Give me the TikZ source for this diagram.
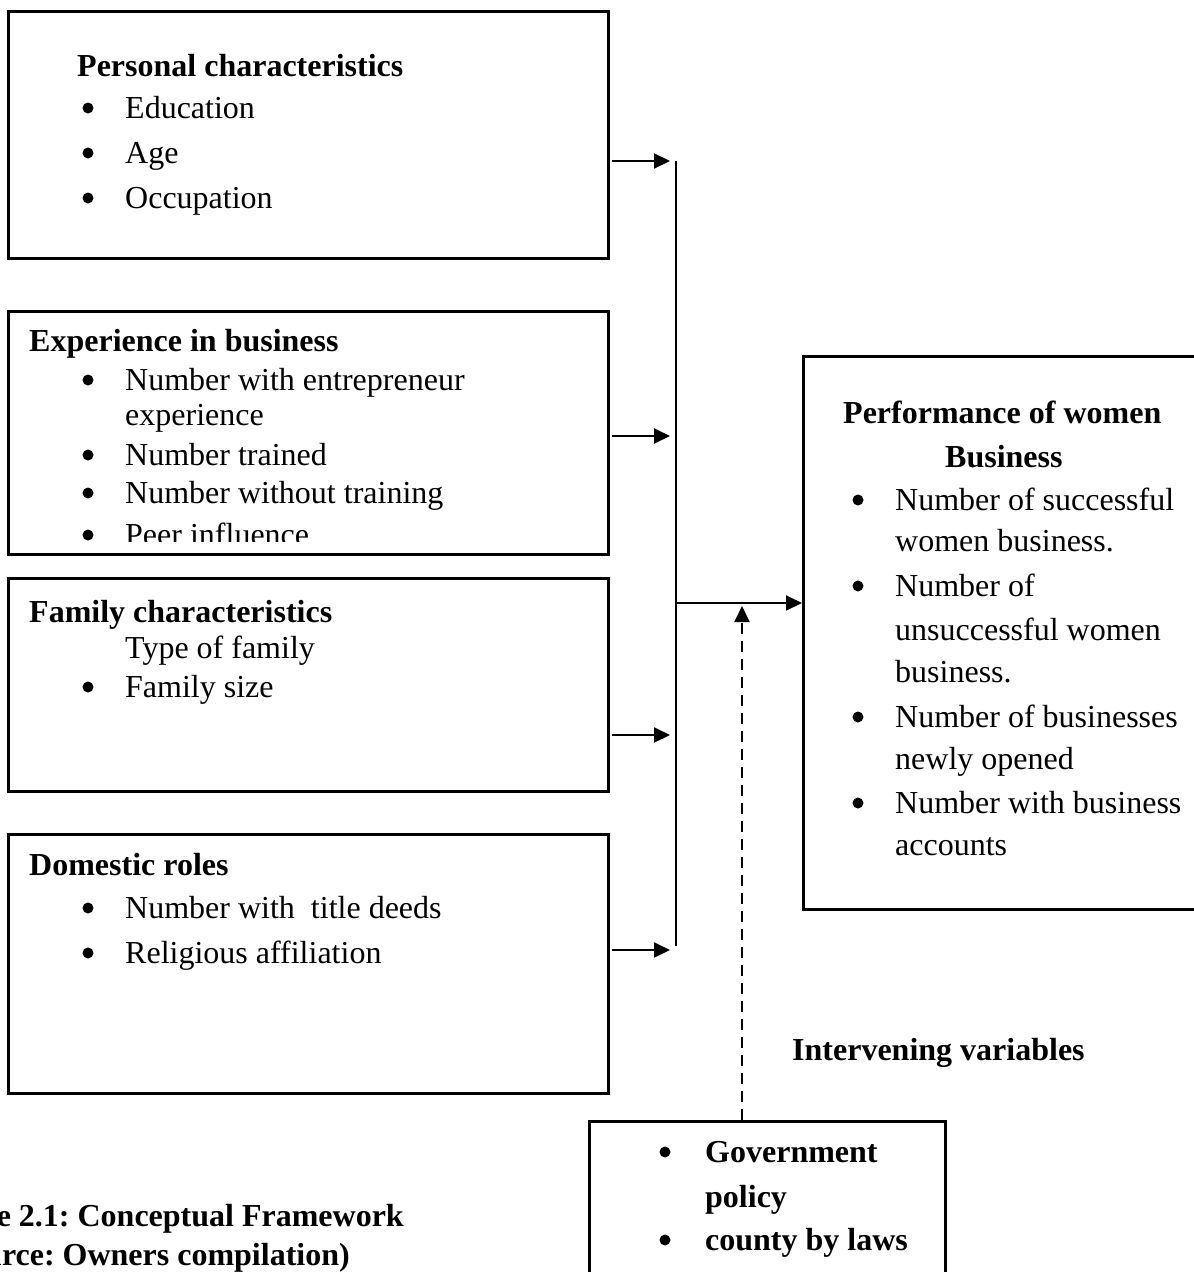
\documentclass[tikz,border=0pt]{standalone}
\usepackage{fontspec}
\setmainfont{Liberation Serif}
\frenchspacing
\usetikzlibrary{arrows.meta}
\tikzset{>={Triangle[length=16pt,width=15pt]}}
\tikzstyle{boxframe}=[draw,line width=2.6pt,anchor=north west,inner sep=0pt]
\tikzstyle{txt}=[anchor=base west,inner sep=0pt,font=\fontsize{32}{38}\selectfont]
\tikzstyle{headtxt}=[txt,font=\fontsize{32}{38}\selectfont\bfseries]
\tikzstyle{dotmark}=[circle,fill,inner sep=0pt,minimum size=11pt]
\tikzstyle{feed}=[->,line width=2pt]
\newcommand{\listitem}[5]{%
  \node[dotmark] (#1dot) at (#2,#4-10) {};
  \node[txt] (#1) at (#3,#4) {#5};
}

\begin{document}
\begin{tikzpicture}[x=1pt,y=-1pt]
  \useasboundingbox (0,0) rectangle (1194,1272);

  % BOXES
  \node[boxframe,minimum width=600pt,minimum height=247pt] (pers) at (7,10) {};
  \node[boxframe,minimum width=600pt,minimum height=243pt] (expe) at (7,310) {};
  \node[boxframe,minimum width=600pt,minimum height=213pt] (fami) at (7,577) {};
  \node[boxframe,minimum width=600pt,minimum height=259pt] (dome) at (7,833) {};
  \node[boxframe,minimum width=420pt,minimum height=553pt] (perf) at (802,355) {};
  \node[boxframe,minimum width=356pt,minimum height=200pt] (gov) at (588,1120) {};

  % PERSONAL
  \node[headtxt] (persT) at (77,76) {Personal characteristics};
  \listitem{edu}{88}{125}{118}{Education}
  \listitem{age}{88}{125}{163}{Age}
  \listitem{occ}{88}{125}{208}{Occupation}

  % EXPERIENCE
  \node[headtxt] (expeT) at (29,351) {Experience in business};
  \listitem{ent}{88}{125}{390}{Number with entrepreneur}
  \node[txt] (ent2) at (125,425) {experience};
  \listitem{trn}{88}{125}{465}{Number trained}
  \listitem{wtr}{88}{125}{503}{Number without training}
  \begin{scope}
    \clip (0,312) rectangle (607,541);
    \listitem{peer}{88}{125}{545}{Peer influence}
  \end{scope}

  % FAMILY
  \node[headtxt] (famiT) at (29,622) {Family characteristics};
  \node[txt] (typ) at (125,658) {Type of family};
  \listitem{siz}{88}{125}{697}{Family size}

  % DOMESTIC
  \node[headtxt] (domeT) at (29,875) {Domestic roles};
  \listitem{ttl}{88}{125}{918}{Number with\ \ title deeds}
  \listitem{rel}{88}{125}{963}{Religious affiliation}

  % PERFORMANCE
  \node[headtxt] (perfT) at (843,423) {Performance of women};
  \node[headtxt] (perfT2) at (945,467) {Business};
  \listitem{suc}{858}{895}{510}{Number of successful}
  \node[txt] (suc2) at (895,551) {women business.};
  \listitem{uns}{858}{895}{596}{Number of}
  \node[txt] (uns2) at (895,640) {unsuccessful women};
  \node[txt] (uns3) at (895,682) {business.};
  \listitem{new}{858}{895}{727}{Number of businesses}
  \node[txt] (new2) at (895,769) {newly opened};
  \listitem{acc}{858}{895}{813}{Number with business}
  \node[txt] (acc2) at (895,855) {accounts};

  % INTERVENING
  \node[headtxt] (intv) at (792,1060) {Intervening variables};
  \listitem{pol}{665}{705}{1162}{\textbf{Government}}
  \node[headtxt] (pol2) at (705,1207) {policy};
  \listitem{law}{665}{705}{1250}{\textbf{county by laws}}

  % CAPTION
  \node[headtxt,anchor=base east] (cap) at (404,1226) {Figure 2.1: Conceptual Framework};
  \node[headtxt,anchor=base east] (src) at (350,1265) {(Source: Owners compilation)};

  % CONNECTORS
  \coordinate (a1) at (670,161);
  \coordinate (a2) at (670,436);
  \coordinate (a3) at (670,735);
  \coordinate (a4) at (670,950);
  \coordinate (bt) at (676,161);
  \coordinate (bb) at (676,946);
  \coordinate (hub) at (676,603);
  \coordinate (mid) at (742,606);
  \draw[feed] ([xshift=2pt]pers.east |- a1) -- (a1);
  \draw[feed] ([xshift=2pt]expe.east |- a2) -- (a2);
  \draw[feed] ([xshift=2pt]fami.east |- a3) -- (a3);
  \draw[feed] ([xshift=2pt]dome.east |- a4) -- (a4);
  \draw[line width=2pt] (bt) -- (bb);
  \draw[feed] (hub) -- (perf.west |- hub);
  \draw[feed,dash pattern=on 11pt off 7pt] (gov.north -| mid) -- (mid);
\end{tikzpicture}
\end{document}
